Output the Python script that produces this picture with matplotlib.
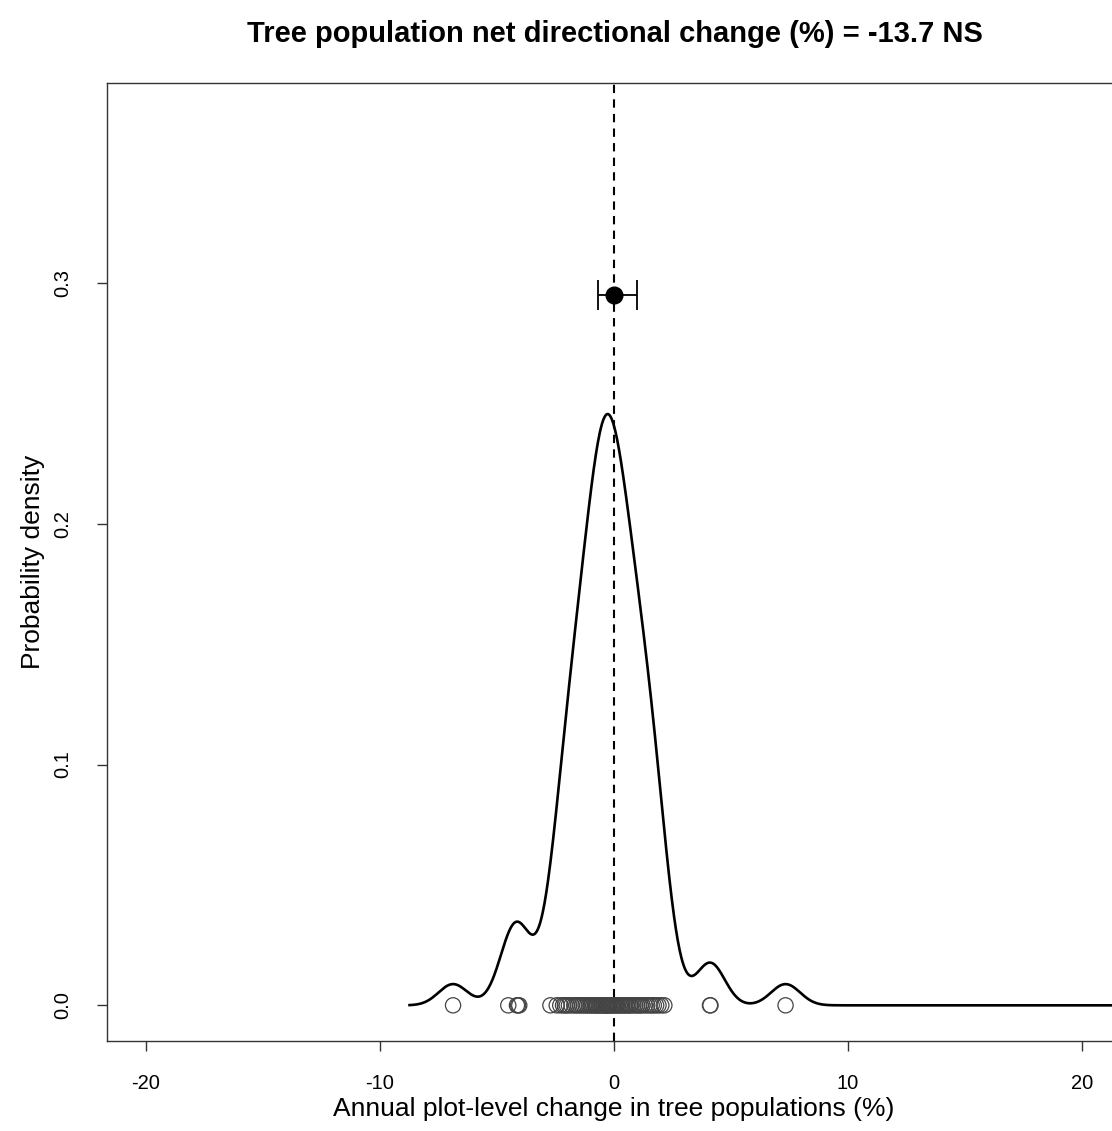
import numpy as np
import matplotlib
matplotlib.use("Agg")
import matplotlib.pyplot as plt

plt.rcParams['font.family'] = ['Liberation Sans', 'DejaVu Sans']

outer_pts = [-6.88, -4.52, -4.15, -4.10, -4.05, 4.10, 4.12, 7.33]
central_pts = [-2.72, -2.45, -2.30,
               -2.18, -2.10, -2.02, -1.93, -1.82,
               -1.70, -1.62, -1.55, -1.46, -1.38, -1.30,
               -1.22, -1.15, -1.08, -1.01, -0.95, -0.88, -0.82, -0.77,
               -0.72, -0.66, -0.61, -0.55, -0.50, -0.45, -0.40, -0.35, -0.31, -0.28, -0.27,
               -0.22, -0.16, -0.11, -0.05, 0.00, 0.06, 0.12, 0.17, 0.23,
               0.30, 0.36, 0.42, 0.48, 0.55, 0.61, 0.67, 0.73,
               0.82, 0.90, 0.98, 1.06, 1.13, 1.21,
               1.32, 1.42, 1.52, 1.61, 1.70,
               1.80, 1.90, 2.02, 2.15]
changes = np.array(outer_pts + central_pts)

bandwidth = 0.62
grid_end = 22.0

# mean and confidence interval shown above the curve
mean_change = 0.0
ci_low = -0.68
ci_high = 0.98
ci_y = 0.295

xticks = [-20, -10, 0, 10, 20]
yticks = [0.0, 0.1, 0.2, 0.3]

title = "Tree population net directional change (%) = -13.7 NS"
xlab = "Annual plot-level change in tree populations (%)"
ylab = "Probability density"

# gaussian kernel density, like R's density()
grid = np.linspace(changes.min() - 3 * bandwidth, grid_end, 1200)
dens = np.exp(-0.5 * ((grid[:, None] - changes[None, :]) / bandwidth) ** 2).sum(axis=1)
dens = dens / (len(changes) * bandwidth * np.sqrt(2 * np.pi))

fig = plt.figure(figsize=(11.12, 11.31), dpi=100)
ax = fig.add_axes([0.0962, 0.0796, 0.912, 0.847])

ax.plot(grid, dens, color='black', lw=1.9, zorder=3)
ax.axvline(0, color='black', lw=1.5, ls=(0, (4, 3)), zorder=2)
ax.scatter(changes, np.zeros(len(changes)), s=120, facecolors='none',
           edgecolors='#444444', linewidths=0.9, zorder=4)

ax.errorbar([mean_change], [ci_y],
            xerr=[[mean_change - ci_low], [ci_high - mean_change]],
            fmt='o', color='black', ms=12, capsize=11, capthick=1.3, elinewidth=1.3, zorder=5)

ax.set_xlim(-21.67, 21.67)
ax.set_ylim(-0.0148, 0.383)
ax.set_xticks(xticks)
ax.set_xticklabels([str(t) for t in xticks])
ax.set_yticks(yticks)
ax.set_yticklabels(["%.1f" % t for t in yticks], rotation=90, va='center')
ax.tick_params(direction='out', length=7, width=1, labelsize=14.5, color='#333333')
ax.tick_params(axis='x', pad=17)
ax.tick_params(axis='y', pad=18)
for s in ax.spines.values():
    s.set_color('#333333')
    s.set_linewidth(1)

ax.set_xlabel(xlab, fontsize=19, labelpad=3)
ax.set_ylabel(ylab, fontsize=19, labelpad=6)
fig.suptitle(title, fontsize=21, fontweight='bold', y=0.982, x=0.553)

fig.savefig("out.png", dpi=100)
